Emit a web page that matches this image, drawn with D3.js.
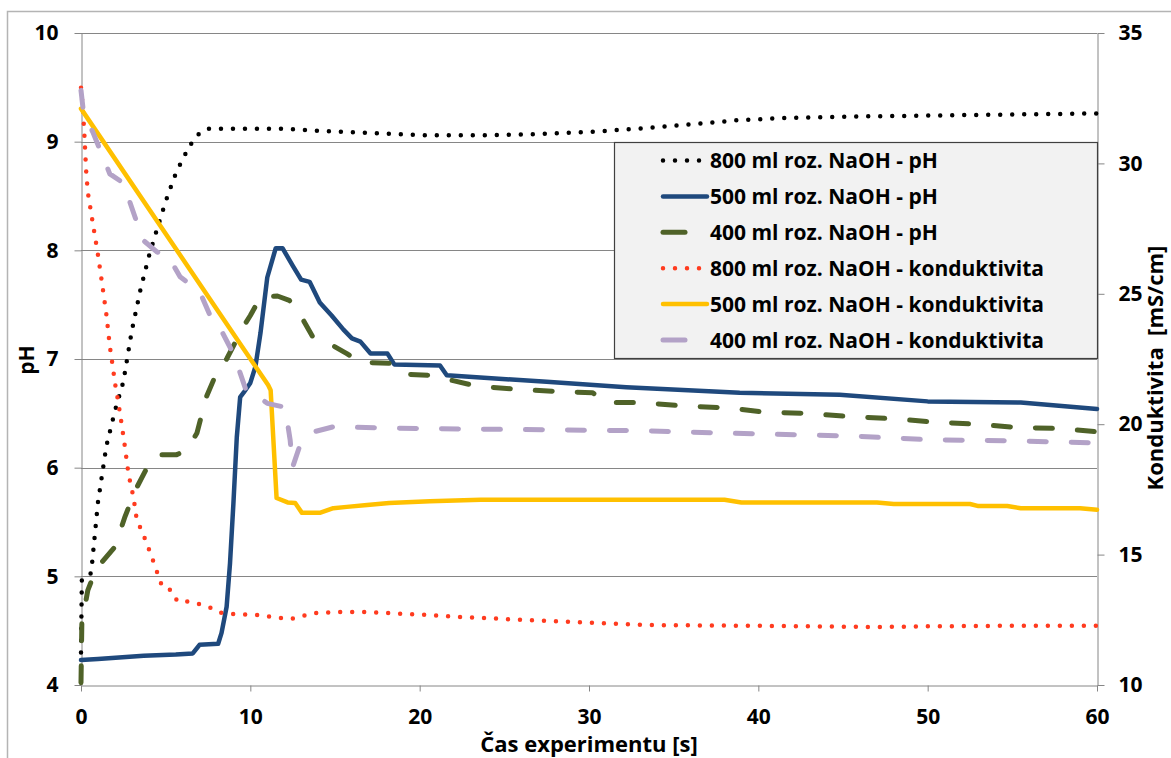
<!DOCTYPE html>
<html>
<head>
<meta charset="utf-8">
<script src="https://cdn.jsdelivr.net/npm/d3@7"></script>
<style>
  body { margin: 0; background: #fff; }
  svg { display: block; font-family: "Open Sans", Lato, sans-serif; font-weight: 700; }
</style>
</head>
<body>
<svg id="chart" width="1171" height="758"></svg>
<script>
// Time axis ticks and value axes
var timeTicks = [0, 10, 20, 30, 40, 50, 60];
var phTicks = [4, 5, 6, 7, 8, 9, 10];
var condTicks = [10, 15, 20, 25, 30, 35];

// 800 ml NaOH - pH
var t800ph = [0, 0.05, 0.6, 1.0, 1.5, 2.0, 2.5, 3.0, 3.5, 4.0, 4.5, 5.0, 5.5, 6.0, 6.5, 7.0, 7.5, 12, 14, 17, 20, 24, 27, 30, 33, 36, 39, 42, 45, 50, 55, 60];
var ph800 = [4.3, 4.98, 5.03, 5.68, 6.2, 6.52, 6.79, 7.26, 7.63, 7.94, 8.2, 8.45, 8.67, 8.84, 8.98, 9.08, 9.12, 9.12, 9.1, 9.08, 9.06, 9.06, 9.07, 9.09, 9.12, 9.16, 9.2, 9.22, 9.23, 9.24, 9.25, 9.26];

// 500 ml NaOH - pH
var t500ph = [0, 1, 3.7, 5.6, 6.6, 7.0, 8.1, 8.3, 8.6, 8.8, 9.0, 9.2, 9.4, 9.6, 10.0, 10.3, 10.6, 11.0, 11.5, 11.9, 12.5, 13.0, 13.5, 14.1, 14.8, 15.5, 16.0, 16.5, 17.1, 18.1, 18.5, 21.2, 21.6, 27.5, 32.2, 38.9, 44.8, 50, 55.5, 60];
var ph500 = [4.23, 4.24, 4.27, 4.28, 4.29, 4.37, 4.38, 4.48, 4.72, 5.12, 5.67, 6.28, 6.65, 6.69, 6.78, 6.93, 7.24, 7.75, 8.02, 8.02, 7.86, 7.73, 7.71, 7.52, 7.40, 7.27, 7.19, 7.16, 7.05, 7.05, 6.95, 6.94, 6.85, 6.79, 6.74, 6.69, 6.67, 6.61, 6.6, 6.54];

// 400 ml NaOH - pH
var t400ph = [0, 0.05, 0.4, 0.9, 1.5, 2.0, 2.6, 3.2, 3.9, 4.5, 5.65, 6.25, 6.85, 7.4, 8.0, 8.6, 9.6, 10.0, 10.6, 11.6, 12.3, 12.9, 13.7, 14.3, 14.8, 15.7, 16.5, 18.2, 19.1, 20.6, 23.4, 25.9, 28.3, 30.2, 31.1, 33, 35.4, 38.1, 40.5, 42.9, 45.4, 48, 50.3, 52.9, 55.3, 57.8, 60];
var ph400 = [4.02, 4.57, 4.87, 5.07, 5.18, 5.27, 5.55, 5.79, 6.0, 6.12, 6.12, 6.16, 6.32, 6.65, 6.87, 7.0, 7.3, 7.4, 7.57, 7.58, 7.54, 7.42, 7.2, 7.16, 7.13, 7.05, 6.97, 6.96, 6.86, 6.85, 6.75, 6.72, 6.70, 6.69, 6.60, 6.60, 6.57, 6.55, 6.51, 6.50, 6.47, 6.45, 6.42, 6.40, 6.37, 6.36, 6.33];

// 800 ml NaOH - konduktivita [mS/cm]
var t800k = [0, 0.1, 0.2, 0.3, 0.4, 0.6, 0.8, 1.0, 1.2, 1.5, 1.7, 1.9, 2.0, 2.2, 2.4, 2.6, 2.8, 3.1, 3.3, 3.6, 4.1, 4.4, 4.8, 5.3, 5.7, 6.3, 7.0, 7.7, 8.3, 9.0, 10.4, 11.75, 12.4, 13.1, 13.9, 15.3, 16.7, 18.1, 20, 22.7, 26, 30.4, 33.5, 40, 47, 50, 55, 60];
var k800 = [32.9, 32.2, 31.1, 29.75, 28.9, 28.1, 27.3, 26.5, 25.6, 24.2, 23.0, 22.1, 21.6, 20.85, 20.0, 19.1, 18.1, 17.2, 16.3, 15.9, 15.05, 14.5, 13.76, 13.64, 13.2, 13.2, 13.1, 12.95, 12.76, 12.72, 12.68, 12.57, 12.53, 12.65, 12.76, 12.8, 12.8, 12.76, 12.7, 12.6, 12.5, 12.38, 12.3, 12.27, 12.22, 12.25, 12.27, 12.27];

// 500 ml NaOH - konduktivita [mS/cm]
var t500k = [0, 11.05, 11.2, 11.55, 12.2, 12.65, 13.05, 14.1, 14.9, 15.7, 16.9, 18.2, 20.6, 23.6, 38, 39, 47, 48, 52.5, 53, 54.7, 55.5, 59, 60];
var k500 = [32.1, 21.5, 21.3, 17.17, 17.0, 16.98, 16.6, 16.6, 16.78, 16.83, 16.9, 16.98, 17.05, 17.1, 17.1, 17.0, 17.0, 16.94, 16.94, 16.86, 16.86, 16.78, 16.78, 16.72];

// 400 ml NaOH - konduktivita [mS/cm]
var t400k = [0, 0.15, 0.7, 1.7, 2.5, 3.0, 3.66, 4.5, 5.1, 5.85, 7.0, 7.8, 8.2, 9.0, 9.4, 9.8, 10.6, 11.0, 12.05, 12.35, 12.5, 12.9, 13.7, 14.9, 18.4, 25, 33, 38, 40.5, 45.4, 50.3, 55.3, 60];
var k400 = [32.8, 31.93, 31.2, 29.6, 29.25, 28.3, 27.06, 26.6, 26.5, 25.65, 25.1, 23.9, 23.7, 22.7, 21.96, 21.2, 21.0, 20.8, 20.65, 19.4, 18.36, 19.13, 19.7, 19.9, 19.85, 19.8, 19.75, 19.66, 19.62, 19.55, 19.4, 19.36, 19.28];

var seriesNames = [
    "800 ml roz. NaOH - pH",
    "500 ml roz. NaOH - pH",
    "400 ml roz. NaOH - pH",
    "800 ml roz. NaOH - konduktivita",
    "500 ml roz. NaOH - konduktivita",
    "400 ml roz. NaOH - konduktivita"
];

// Line styles per series (same order as names)
var styles = [
    { color: "#000000", width: 4.5, dash: "0 12", axis: "ph" },
    { color: "#1f497d", width: 4.5, dash: null, axis: "ph" },
    { color: "#4f6228", width: 5, dash: "17 25", axis: "ph" },
    { color: "#ff3b1f", width: 4.5, dash: "0 12", axis: "k" },
    { color: "#ffc000", width: 4.5, dash: null, axis: "k" },
    { color: "#b3a2c7", width: 5, dash: "17 25", axis: "k" }
];

var seriesData = [
    [t800ph, ph800], [t500ph, ph500], [t400ph, ph400],
    [t800k, k800], [t500k, k500], [t400k, k400]
];

var svg = d3.select("#chart");
var plotLeft = 81, plotRight = 1097, plotTop = 33, plotBottom = 685;
var axisColor = "#868686";

var x = d3.scaleLinear().domain([0, 60]).range([plotLeft, plotRight]);
var yPh = d3.scaleLinear().domain([4, 10]).range([plotBottom, plotTop]);
var yK = d3.scaleLinear().domain([10, 35]).range([plotBottom, plotTop]);

// Outer chart border
svg.append("rect")
    .attr("x", 7.5).attr("y", 11.5)
    .attr("width", 1200).attr("height", 800)
    .attr("fill", "none").attr("stroke", "#b4b4b4").attr("stroke-width", 1.5);

// Horizontal gridlines
svg.append("g")
    .selectAll("line")
    .data(phTicks.slice(1))
    .join("line")
    .attr("x1", plotLeft).attr("x2", plotRight)
    .attr("y1", d => Math.round(yPh(d)) + 0.5)
    .attr("y2", d => Math.round(yPh(d)) + 0.5)
    .attr("stroke", axisColor).attr("stroke-width", 1);

function styleAxis(g)
{
    g.selectAll(".domain").attr("stroke", axisColor);
    g.selectAll(".tick line").attr("stroke", axisColor);
    g.selectAll(".tick text")
        .attr("fill", "#000")
        .style("font-size", "21px")
        .style("font-weight", "700")
        .style("font-family", "'Open Sans', Lato, sans-serif");
}

svg.append("g")
    .attr("transform", `translate(${plotLeft + 0.5},0)`)
    .call(d3.axisLeft(yPh).tickValues(phTicks).tickSize(7).tickSizeOuter(0).tickPadding(16).tickFormat(d3.format("d")))
    .call(styleAxis);

svg.append("g")
    .attr("transform", `translate(${plotRight + 0.5},0)`)
    .call(d3.axisRight(yK).tickValues(condTicks).tickSize(7).tickSizeOuter(0).tickPadding(14).tickFormat(d3.format("d")))
    .call(styleAxis);

svg.append("g")
    .attr("transform", `translate(0,${plotBottom + 0.5})`)
    .call(d3.axisBottom(x).tickValues(timeTicks).tickSize(6).tickSizeOuter(0).tickPadding(18).tickFormat(d3.format("d")))
    .call(styleAxis);

// Series lines
var lineGroup = svg.append("g");
seriesData.forEach(function(pair, i)
{
    var st = styles[i];
    var yScale = st.axis == "ph" ? yPh : yK;
    var pts = pair[0].map((t, j) => [t, pair[1][j]]);
    var line = d3.line().x(d => x(d[0])).y(d => yScale(d[1]));
    lineGroup.append("path")
        .datum(pts)
        .attr("d", line)
        .attr("fill", "none")
        .attr("stroke", st.color)
        .attr("stroke-width", st.width)
        .attr("stroke-linecap", "round")
        .attr("stroke-linejoin", "round")
        .attr("stroke-dasharray", st.dash);
});

// Legend
var legend = svg.append("g");
legend.append("rect")
    .attr("x", 614.5).attr("y", 142.5)
    .attr("width", plotRight - 614).attr("height", 216)
    .attr("fill", "#f2f2f2").attr("stroke", "#404040").attr("stroke-width", 1.2);

seriesNames.forEach(function(name, i)
{
    var st = styles[i];
    var cy = 160.5 + i * 35.9;
    var x2 = st.dash == "17 25" ? 685 : (st.dash ? 704 : 707);
    legend.append("line")
        .attr("x1", 663).attr("x2", x2)
        .attr("y1", cy).attr("y2", cy)
        .attr("stroke", st.color)
        .attr("stroke-width", st.width)
        .attr("stroke-linecap", "round")
        .attr("stroke-dasharray", st.dash == "17 25" ? null : st.dash);
    legend.append("text")
        .attr("x", 710).attr("y", cy + 7.5)
        .style("font-size", "21px")
        .text(name);
});

// Axis titles
svg.append("text")
    .attr("transform", "translate(589,752)")
    .attr("text-anchor", "middle")
    .style("font-size", "22px")
    .text("Čas experimentu [s]");

svg.append("text")
    .attr("transform", "translate(34,360) rotate(-90)")
    .attr("text-anchor", "middle")
    .style("font-size", "21px")
    .text("pH");

svg.append("text")
    .attr("transform", "translate(1163,368) rotate(-90)")
    .attr("text-anchor", "middle")
    .style("font-size", "22px")
    .style("white-space", "pre")
    .text("Konduktivita  [mS/cm]");
</script>
</body>
</html>
